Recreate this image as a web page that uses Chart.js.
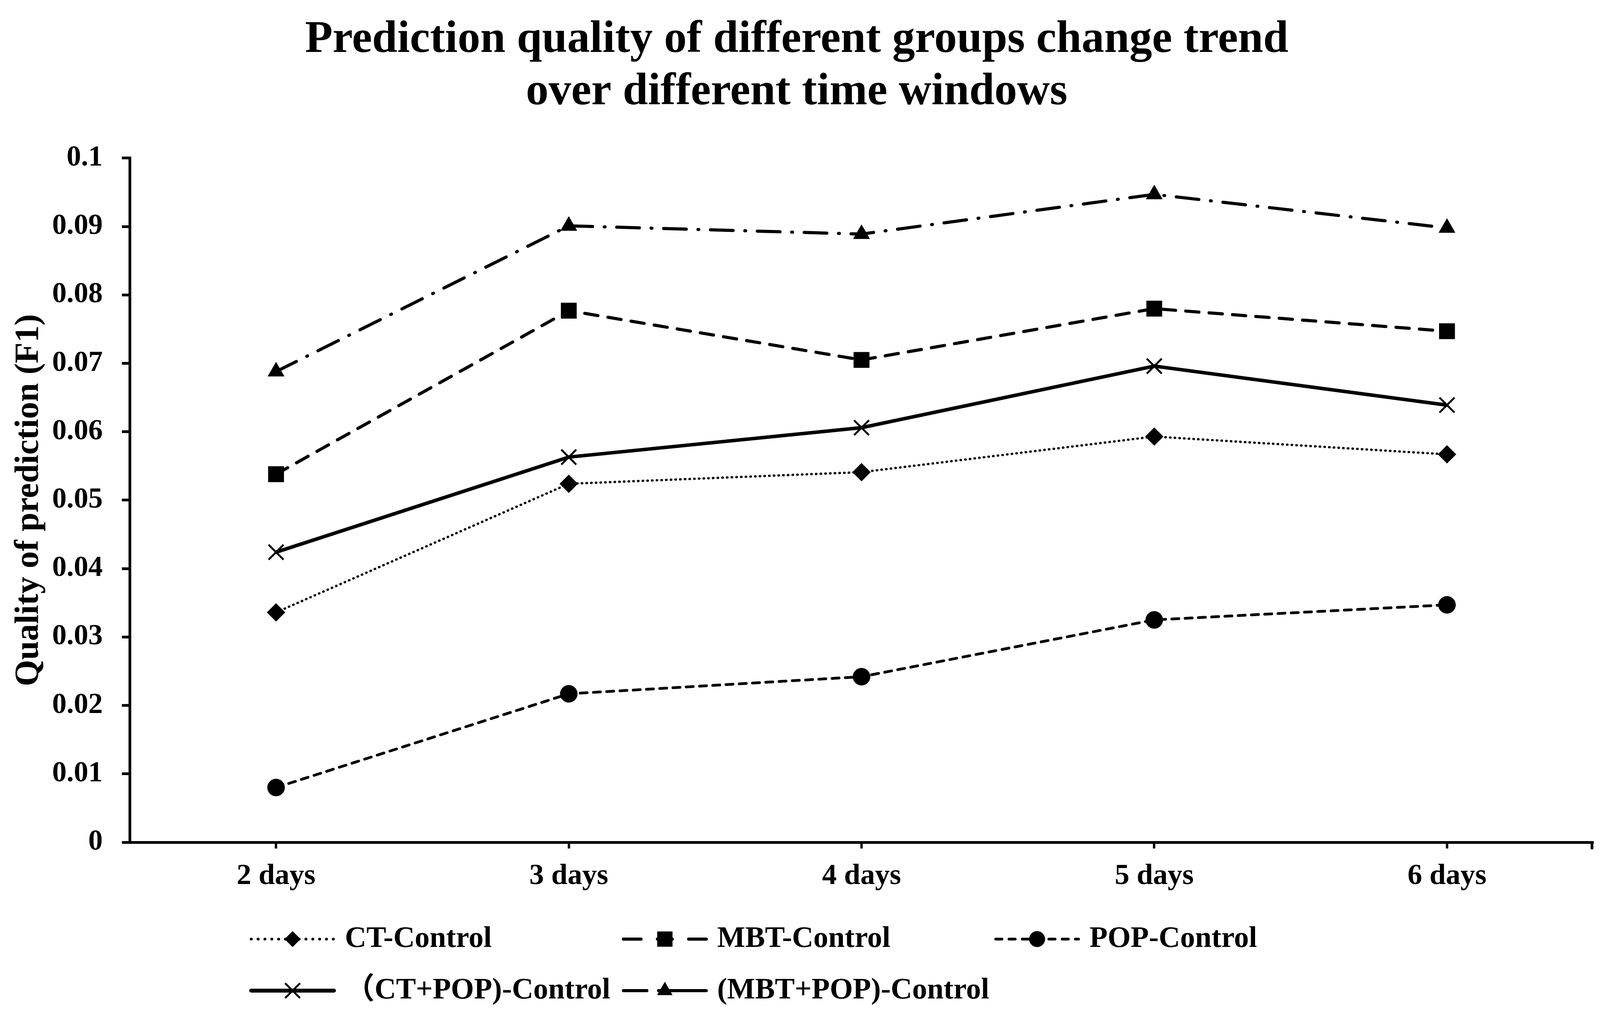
<!DOCTYPE html>
<html>
<head>
<meta charset="utf-8">
<script src="https://cdn.jsdelivr.net/npm/chart.js@4.4.1/dist/chart.umd.min.js"></script>
<style>
html,body{margin:0;padding:0;background:#fff;}
canvas{display:block;}
</style>
</head>
<body>
<canvas id="c" width="4128" height="2625" style="width:4128px;height:2625px"></canvas>
<script>
const categories = ['2 days', '3 days', '4 days', '5 days', '6 days'];
const ctControl = [0.0336, 0.0524, 0.0541, 0.0593, 0.0567];
const mbtControl = [0.0538, 0.0777, 0.0705, 0.0780, 0.0747];
const popControl = [0.0080, 0.0217, 0.0242, 0.0325, 0.0347];
const ctPopControl = [0.0424, 0.0563, 0.0606, 0.0696, 0.0639];
const mbtPopControl = [0.0688, 0.0901, 0.0889, 0.0947, 0.0898];
const seriesLabels = ['CT-Control', 'MBT-Control', 'POP-Control', '\uFF08CT+POP)-Control', '(MBT+POP)-Control'];
const yTickLabels = ['0', '0.01', '0.02', '0.03', '0.04', '0.05', '0.06', '0.07', '0.08', '0.09', '0.1'];
const titleLines = ['Prediction quality of different groups change trend', 'over different time windows'];
const yAxisTitle = 'Quality of prediction (F1)';

const FONT = "'Liberation Serif', 'Times New Roman', 'Noto Sans CJK SC', serif";

function ds(label, data, dash, width, cap, style, radius, pbw, legendDash, legendRadius) {
  return {
    label: label, data: data,
    borderColor: '#000', backgroundColor: '#000',
    borderWidth: width, borderDash: dash, borderCapStyle: cap,
    pointStyle: style, pointRadius: radius, pointHoverRadius: radius,
    pointBackgroundColor: '#000', pointBorderColor: '#000', pointBorderWidth: pbw,
    tension: 0, fill: false, legendDash: legendDash, legendRadius: legendRadius
  };
}

const datasets = [
  ds(seriesLabels[0], ctControl, [1, 11], 6, 'round', 'rectRot', 23, 1, [0.5, 17], 20),
  ds(seriesLabels[1], mbtControl, [34, 26], 8, 'round', 'rect', 28, 1, [45, 42, 38, 42, 45, 0], 27),
  ds(seriesLabels[2], popControl, [18, 16], 7, 'round', 'circle', 22, 1, [16, 18], 20),
  ds(seriesLabels[3], ctPopControl, [], 9, 'round', 'crossRot', 27, 5, [], 27),
  ds(seriesLabels[4], mbtPopControl, [58, 30, 2, 30], 8, 'round', 'triangle', 24, 1, [60, 30, 122, 0], 22)
];

const legendCols = [643, 1596, 2549];
const legendRows = [2405, 2537];

const colLegend = {
  id: 'colLegend',
  afterDraw(chart) {
    const ctx = chart.ctx;
    const pos = [[0,0],[1,0],[2,0],[0,1],[1,1]];
    // closing tick at the right end of the category axis
    const xs = chart.scales.x;
    ctx.save();
    ctx.strokeStyle = '#000';
    ctx.lineWidth = 7;
    ctx.beginPath();
    ctx.moveTo(xs.right - 3.5, xs.top);
    ctx.lineTo(xs.right - 3.5, xs.top + 18);
    ctx.stroke();
    ctx.restore();

    ctx.save();
    ctx.font = "bold 76px " + FONT;
    ctx.textBaseline = 'middle';
    ctx.textAlign = 'left';
    ctx.fillStyle = '#000';
    chart.data.datasets.forEach((d, i) => {
      const x = legendCols[pos[i][0]], y = legendRows[pos[i][1]];
      const len = 212;
      ctx.save();
      ctx.strokeStyle = '#000';
      ctx.lineWidth = d.legendDash.length ? Math.max(d.borderWidth, 7) : 10;
      ctx.setLineDash(d.legendDash);
      ctx.lineCap = d.borderCapStyle;
      ctx.beginPath();
      ctx.moveTo(x, y);
      ctx.lineTo(x + len, y);
      ctx.stroke();
      ctx.restore();
      ctx.save();
      ctx.fillStyle = '#000';
      ctx.strokeStyle = '#000';
      ctx.lineWidth = d.pointBorderWidth;
      Chart.helpers.drawPoint(ctx, {pointStyle: d.pointStyle, radius: d.legendRadius, rotation: 0, borderWidth: d.pointBorderWidth}, x + len / 2, y);
      ctx.restore();
      ctx.fillText(d.label, x + 240, y);
    });
    ctx.restore();
  }
};

new Chart(document.getElementById('c'), {
  type: 'line',
  data: { labels: categories, datasets: datasets },
  options: {
    responsive: false,
    devicePixelRatio: 1,
    animation: false,
    layout: { padding: { left: 0, right: 49, top: 0, bottom: 298 } },
    plugins: {
      legend: { display: false },
      tooltip: { enabled: false },
      title: {
        display: true,
        text: titleLines,
        color: '#000',
        font: { family: FONT, size: 116, weight: 'bold', lineHeight: 1.155 },
        padding: { top: 36, bottom: 101 }
      }
    },
    scales: {
      x: {
        type: 'category',
        offset: true,
        afterFit(scale) { scale.height = 170; },
        grid: { display: true, drawOnChartArea: false, drawTicks: true, tickLength: 16, tickWidth: 6, tickColor: '#000', offset: false },
        border: { display: true, color: '#000', width: 7 },
        ticks: { color: '#000', padding: 27, font: { family: FONT, size: 75, weight: 'bold' }, maxRotation: 0 }
      },
      y: {
        min: 0, max: 0.1,
        afterFit(scale) { scale.width = 332; },
        grid: { display: true, drawOnChartArea: false, drawTicks: true, tickLength: 20, tickWidth: 7, tickColor: '#000' },
        border: { display: true, color: '#000', width: 7 },
        ticks: {
          stepSize: 0.01, color: '#000', padding: 49,
          font: { family: FONT, size: 74, weight: 'bold' },
          callback: (v, i) => yTickLabels[i]
        },
        title: {
          display: true, text: yAxisTitle, color: '#000',
          font: { family: FONT, size: 87, weight: 'bold', lineHeight: 1.2 },
          padding: { top: 22, bottom: 0 }
        }
      }
    }
  },
  plugins: [colLegend]
});
</script>
</body>
</html>
